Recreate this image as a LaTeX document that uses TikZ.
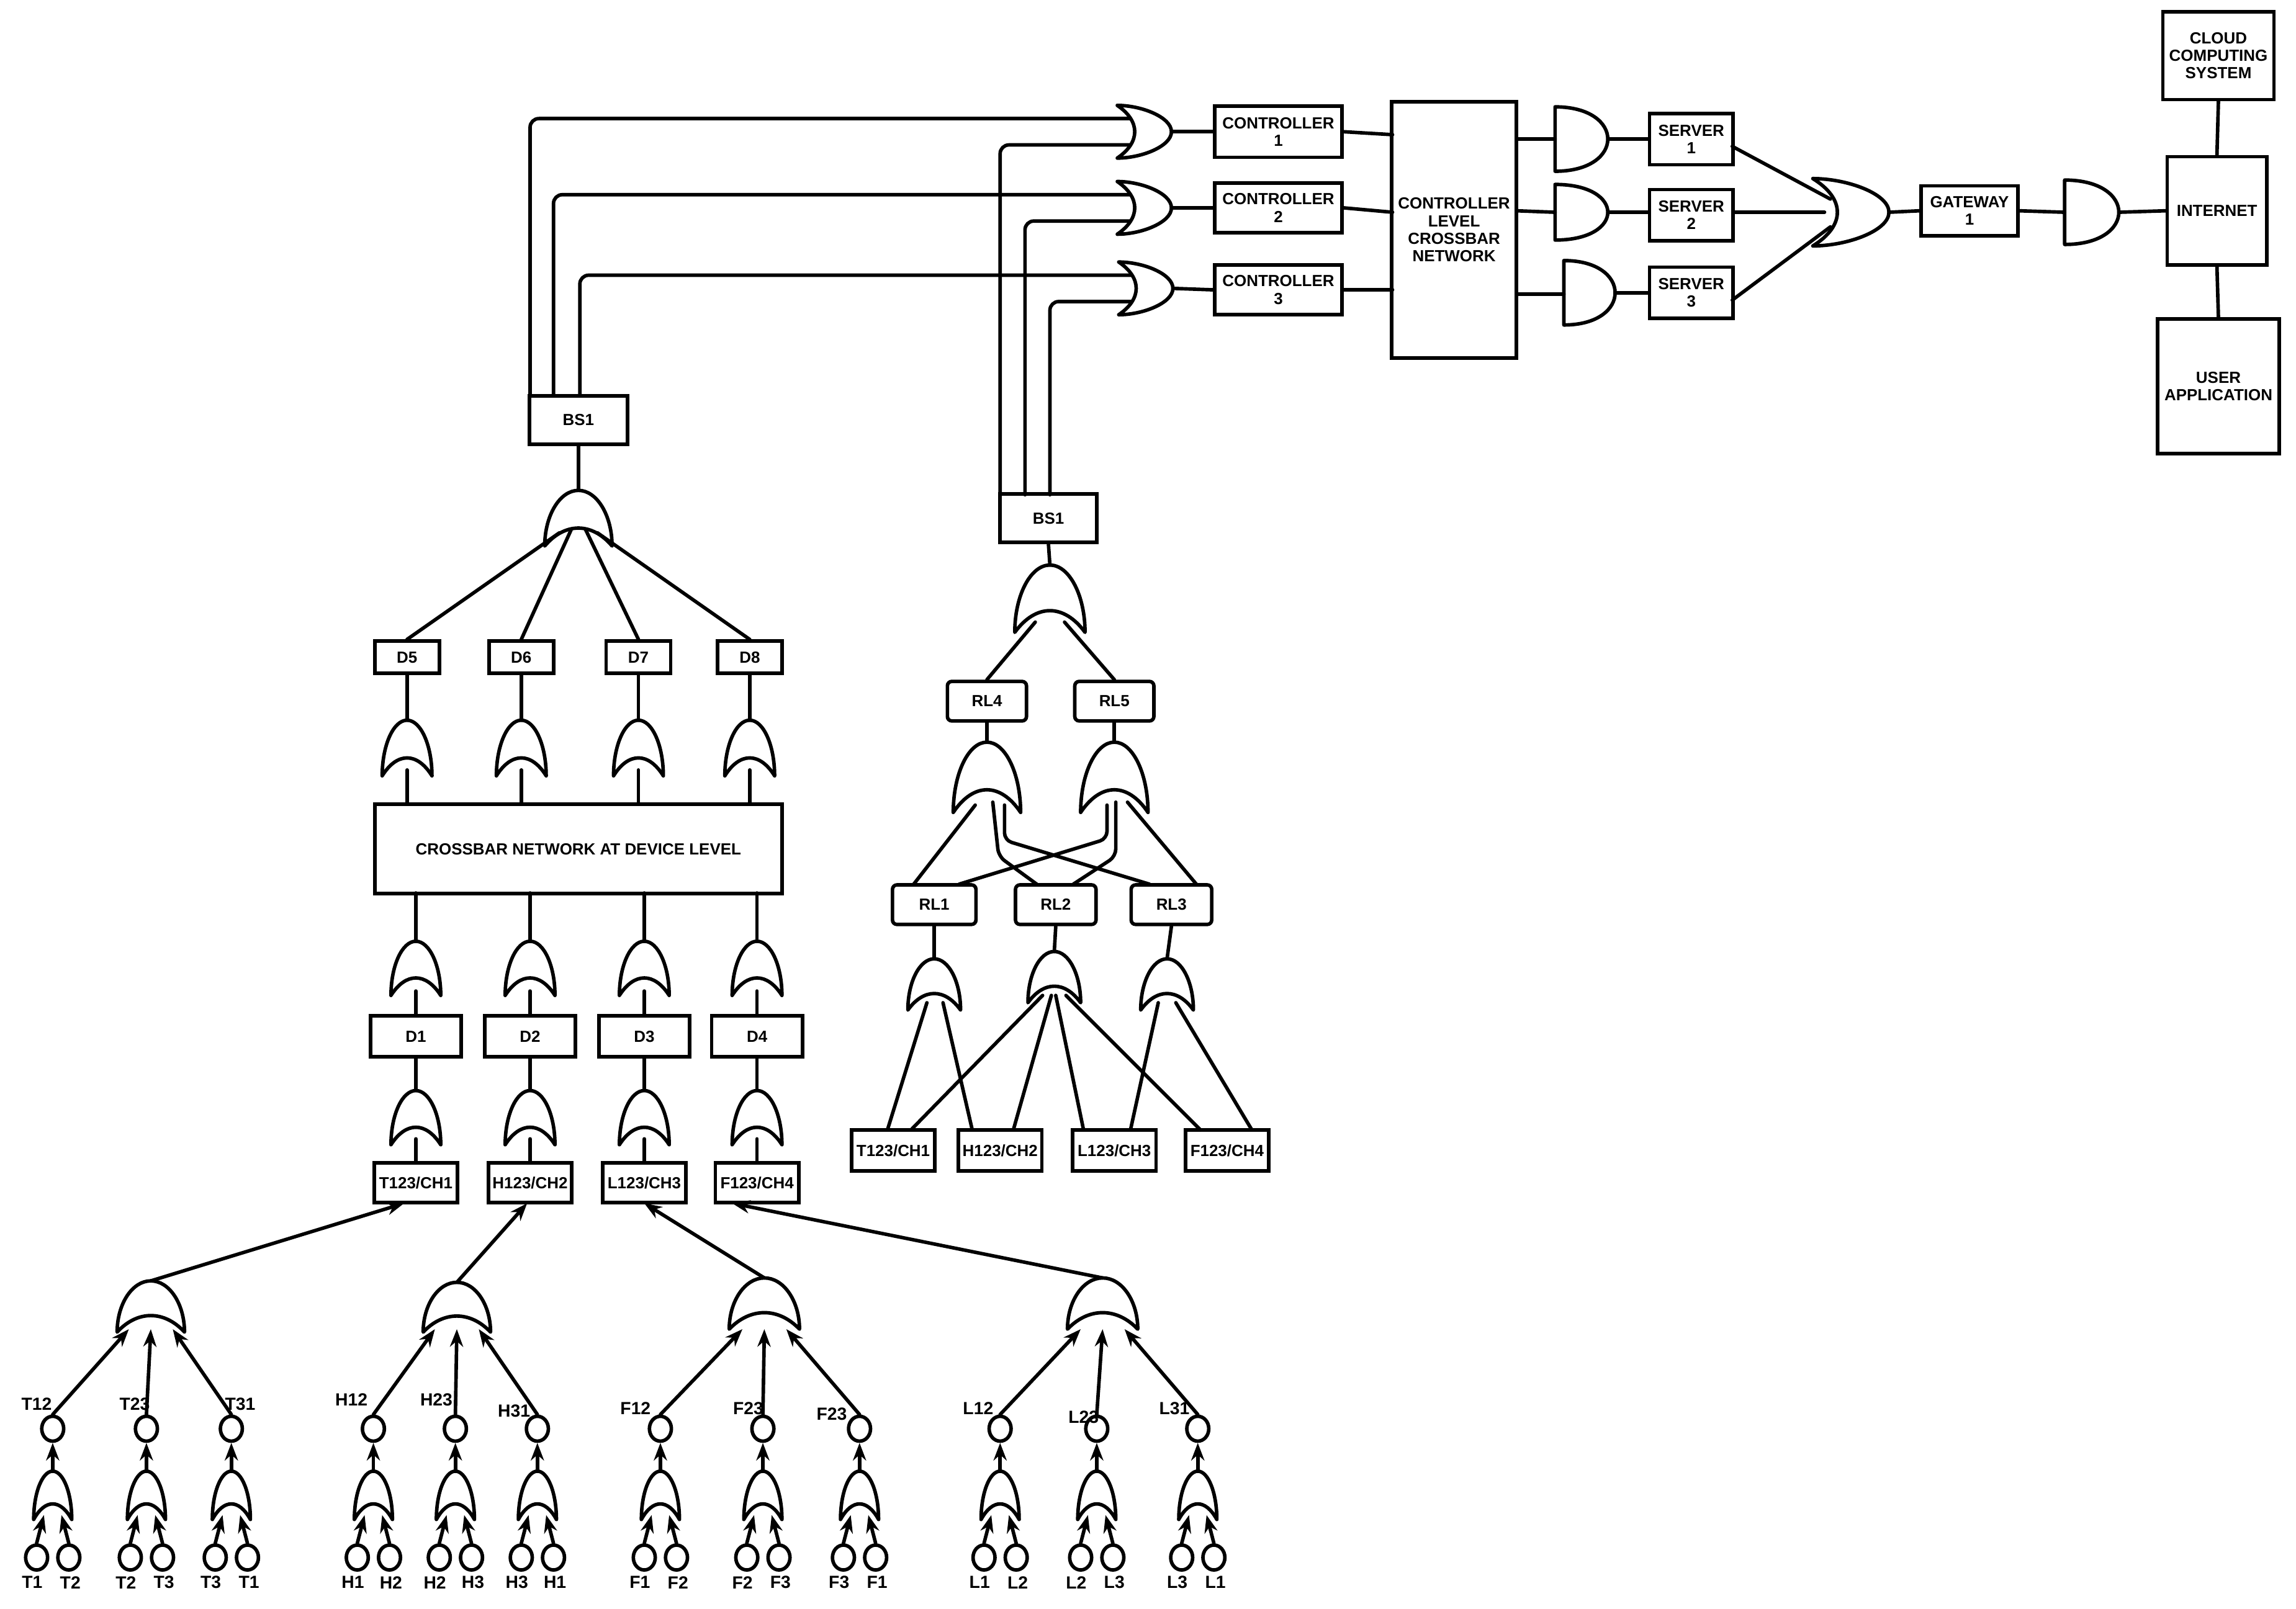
\documentclass[tikz,border=0pt]{standalone}
\usepackage{fontspec}
\setmainfont{Liberation Sans}
\usetikzlibrary{arrows.meta,shapes.geometric}
\newcommand\UpGate[4]{\draw[gate] ({#1-#4},#3) .. controls ({#1-#4},{#2+0.45*(#3-#2)}) and ({#1-0.55*#4},#2) .. (#1,#2) .. controls ({#1+0.55*#4},#2) and ({#1+#4},{#2+0.45*(#3-#2)}) .. ({#1+#4},#3) .. controls ({#1+0.4*#4},{#3-0.43*(#3-#2)}) and ({#1-0.4*#4},{#3-0.43*(#3-#2)}) .. cycle;}
\newcommand\ROrGate[4]{\draw[gate] (#1,{#3-#4}) .. controls ({#1+0.45*(#2-#1)},{#3-#4}) and (#2,{#3-0.55*#4}) .. (#2,#3) .. controls (#2,{#3+0.55*#4}) and ({#1+0.45*(#2-#1)},{#3+#4}) .. (#1,{#3+#4}) .. controls ({#1+0.43*(#2-#1)},{#3+0.4*#4}) and ({#1+0.43*(#2-#1)},{#3-0.4*#4}) .. cycle;}
\newcommand\RAndGate[4]{\draw[gate] (#1,{#3-#4}) .. controls ({(4*#2-#1)/3},{#3-#4}) and ({(4*#2-#1)/3},{#3+#4}) .. (#1,{#3+#4}) -- cycle;}
\tikzset{
  ln/.style={line width=2.4pt,line cap=round,line join=round},
  gate/.style={ln,fill=white},
  arr/.style={ln,-{Stealth[length=12pt,width=9pt]}},
  box/.style={draw,line width=2.4pt,fill=white,font=\bfseries\fontsize{11}{12}\selectfont,align=center,inner sep=0pt},
  rbox/.style={box,rounded corners=3pt},
  circ/.style={draw,line width=2.4pt,ellipse,minimum width=15pt,minimum height=17pt,inner sep=0pt},
  lbl/.style={font=\bfseries\fontsize{12}{13}\selectfont,inner sep=0pt},
}
\begin{document}
\begin{tikzpicture}[x=1pt,y=-1pt]
\useasboundingbox (0,0) rectangle (1568,1099);
% ---------- top chain ----------
\node[box,minimum width=67pt,minimum height=33pt] (BSa) at (395,287) {BS1};
\node[box,minimum width=66pt,minimum height=33pt] (BSb) at (716,354) {BS1};
\draw[ln,rounded corners=6pt] (362,270) |- (773,81);
\draw[ln,rounded corners=6pt] (378,270) |- (773,133);
\draw[ln,rounded corners=6pt] (396,270) |- (773,188);
\draw[ln,rounded corners=6pt] (683,338) |- (773,99);
\draw[ln,rounded corners=6pt] (700,338) |- (773,151);
\draw[ln,rounded corners=6pt] (717,338) |- (773,206);
\ROrGate{763}{800}{90}{18}
\ROrGate{763}{800}{142}{18}
\ROrGate{764}{801}{197}{18}
\node[box,minimum width=87pt,minimum height=35pt] (C1) at (873,90) {CONTROLLER\\1};
\node[box,minimum width=87pt,minimum height=34pt] (C2) at (873,142) {CONTROLLER\\2};
\node[box,minimum width=87pt,minimum height=34pt] (C3) at (873,198) {CONTROLLER\\3};
\draw[ln] (800,90) -- (C1.west);
\draw[ln] (800,142) -- (C2.west);
\draw[ln] (801,197) -- (C3.west);
\node[box,minimum width=85pt,minimum height=175pt] (CX) at (993,157) {CONTROLLER\\LEVEL\\CROSSBAR\\NETWORK};
\draw[ln] (C1.east) -- (951,92);
\draw[ln] (C2.east) -- (951,145);
\draw[ln] (C3.east) -- (951,198);
\RAndGate{1062}{1098}{95}{22}
\RAndGate{1062}{1098}{145}{19}
\RAndGate{1068}{1103}{200}{22}
\draw[ln] (1036,95) -- (1062,95);
\draw[ln] (1036,144) -- (1062,145);
\draw[ln] (1036,201) -- (1068,201);
\node[box,minimum width=57pt,minimum height=35pt] (S1) at (1155,95) {SERVER\\1};
\node[box,minimum width=57pt,minimum height=35pt] (S2) at (1155,147) {SERVER\\2};
\node[box,minimum width=57pt,minimum height=35pt] (S3) at (1155,200) {SERVER\\3};
\draw[ln] (1098,95) -- (S1.west);
\draw[ln] (1098,145) -- (S2.west|-0,145);
\draw[ln] (1103,200) -- (S3.west);
\draw[ln] (1183,100) -- (1250,136);
\draw[ln] (S2.east|-0,145) -- (1246,145);
\draw[ln] (1183,205) -- (1250,155);
\ROrGate{1238}{1290}{145}{23}
\node[box,minimum width=66pt,minimum height=34pt] (GW) at (1345,144) {GATEWAY\\1};
\draw[ln] (1290,145) -- (GW.west);
\RAndGate{1410}{1447}{145}{22}
\draw[ln] (GW.east) -- (1410,145);
\node[box,minimum width=68pt,minimum height=74pt] (NET) at (1514,144) {INTERNET};
\draw[ln] (1447,145) -- (NET.west);
\node[box,minimum width=76pt,minimum height=60pt] (CCS) at (1515,38) {CLOUD\\COMPUTING\\SYSTEM};
\node[box,minimum width=83pt,minimum height=92pt] (UA) at (1515,264) {USER\\APPLICATION};
\draw[ln] (CCS.south) -- (NET.north);
\draw[ln] (NET.south) -- (UA.north);
% ---------- left tree ----------
\UpGate{395}{335}{373}{23}
\draw[ln] (BSa.south) -- (395,335);
\foreach \n/\x in {D5/278,D6/356,D7/436,D8/512}{
  \node[box,minimum width=44pt,minimum height=22pt] (\n) at (\x,449) {\n};
}
\draw[ln] (382,364) -- (D5.north);
\draw[ln] (390,362) -- (D6.north);
\draw[ln] (400,362) -- (D7.north);
\draw[ln] (408,364) -- (D8.north);
\node[box,minimum width=278pt,minimum height=61pt] (CB) at (395,580) {CROSSBAR NETWORK AT DEVICE LEVEL};
\foreach \n/\x in {D5/278,D6/356,D7/436,D8/512}{
  \UpGate{\x}{492}{530}{17}
  \draw[ln] (\n.south) -- (\x,492);
  \draw[ln] (\x,526) -- (\x,549);
}
\foreach \n/\x/\b/\l in {D1/284/BT/{T123/CH1},D2/362/BH/{H123/CH2},D3/440/BL/{L123/CH3},D4/517/BF/{F123/CH4}}{
  \UpGate{\x}{643}{680}{17}
  \draw[ln] (\x,610) -- (\x,643);
  \node[box,minimum width=62pt,minimum height=28pt] (\n) at (\x,708) {\n};
  \draw[ln] (\x,677) -- (\n.north);
  \UpGate{\x}{745}{782}{17}
  \draw[ln] (\n.south) -- (\x,745);
  \node[box,minimum width=57pt,minimum height=27pt] (\b) at (\x,808) {\l};
  \draw[ln] (\x,778) -- (\b.north);
}
% lower groups
\UpGate{103}{875}{910}{23}
\UpGate{312}{876}{910}{23}
\UpGate{522}{873}{908}{24}
\UpGate{753}{873}{908}{24}
\draw[arr] (103,875) -- (276,822);
\draw[arr] (312,876) -- (360,822);
\draw[arr] (522,873) -- (440,822);
\draw[arr] (753,873) -- (500,822);
\foreach \cx/\gx/\gd/\nm/\lx/\ly/\la/\lb in {
 36/103/-15/T12/25/959/T1/T2, 100/103/0/T23/92/959/T2/T3, 158/103/15/T31/164/959/T3/T1,
 255/312/-15/H12/240/956/H1/H2, 311/312/0/H23/298/956/H2/H3, 367/312/15/H31/351/964/H3/H1,
 451/522/-15/F12/434/962/F1/F2, 521/522/0/F23/511/962/F2/F3, 587/522/15/F23/568/966/F3/F1,
 683/753/-15/L12/668/962/L1/L2, 749/753/0/L23/740/968/L2/L3, 818/753/15/L31/802/962/L3/L1}{
  \node[circ] (c\nm\cx) at (\cx,976) {};
  \node[lbl] at (\lx,\ly) {\nm};
  \draw[arr] (c\nm\cx.north) -- ({\gx+\gd},908);
  \UpGate{\cx}{1005}{1038}{13}
  \draw[arr] (\cx,1005) -- (c\nm\cx.south);
  \node[circ] (a\nm\cx) at ({\cx-11},1064) {};
  \node[circ] (b\nm\cx) at ({\cx+11},1064) {};
  \draw[arr] (a\nm\cx.north) -- ({\cx-6},1035);
  \draw[arr] (b\nm\cx.north) -- ({\cx+6},1035);
  \node[lbl] at ({\cx-14},1081) {\la};
  \node[lbl] at ({\cx+12},1081) {\lb};
}
% ---------- right tree ----------
\UpGate{717}{386}{432}{24}
\draw[ln] (BSb.south) -- (717,386);
\node[rbox,minimum width=54pt,minimum height=27pt] (RL4) at (674,479) {RL4};
\node[rbox,minimum width=54pt,minimum height=27pt] (RL5) at (761,479) {RL5};
\draw[ln] (707,425) -- (RL4.north);
\draw[ln] (727,425) -- (RL5.north);
\node[rbox,minimum width=57pt,minimum height=27pt] (RL1) at (638,618) {RL1};
\node[rbox,minimum width=55pt,minimum height=27pt] (RL2) at (721,618) {RL2};
\node[rbox,minimum width=55pt,minimum height=27pt] (RL3) at (800,618) {RL3};
\draw[ln] (RL4.south) -- (674,507);
\draw[ln] (RL5.south) -- (761,507);
\draw[ln] (666,550) -- (624,604);
\draw[ln,rounded corners=5pt] (678,548) -- (682,585) -- (708,604);
\draw[ln,rounded corners=5pt] (686,550) -- (686,574) -- (785,604);
\draw[ln,rounded corners=5pt] (756,550) -- (756,573) -- (655,604);
\draw[ln,rounded corners=5pt] (762,548) -- (762,585) -- (733,604);
\draw[ln] (770,548) -- (817,604);
\UpGate{674}{507}{555}{23}
\UpGate{761}{507}{555}{23}
\foreach \b/\x/\l in {B1/610/{T123/CH1},B2/683/{H123/CH2},B3/761/{L123/CH3},B4/838/{F123/CH4}}{
  \node[box,minimum width=57pt,minimum height=28pt] (\b) at (\x,786) {\l};
}
\draw[ln] (633,685) -- (606,772);
\draw[ln] (644,685) -- (664,772);
\draw[ln] (712,680) -- (622,772);
\draw[ln] (718,680) -- (692,772);
\draw[ln] (721,680) -- (740,772);
\draw[ln] (728,680) -- (820,772);
\draw[ln] (791,685) -- (772,772);
\draw[ln] (803,685) -- (855,772);
\UpGate{638}{655}{690}{18}
\UpGate{720}{650}{685}{18}
\UpGate{797}{655}{690}{18}
\draw[ln] (RL1.south) -- (638,655);
\draw[ln] (RL2.south) -- (720,650);
\draw[ln] (RL3.south) -- (797,655);
\end{tikzpicture}
\end{document}
